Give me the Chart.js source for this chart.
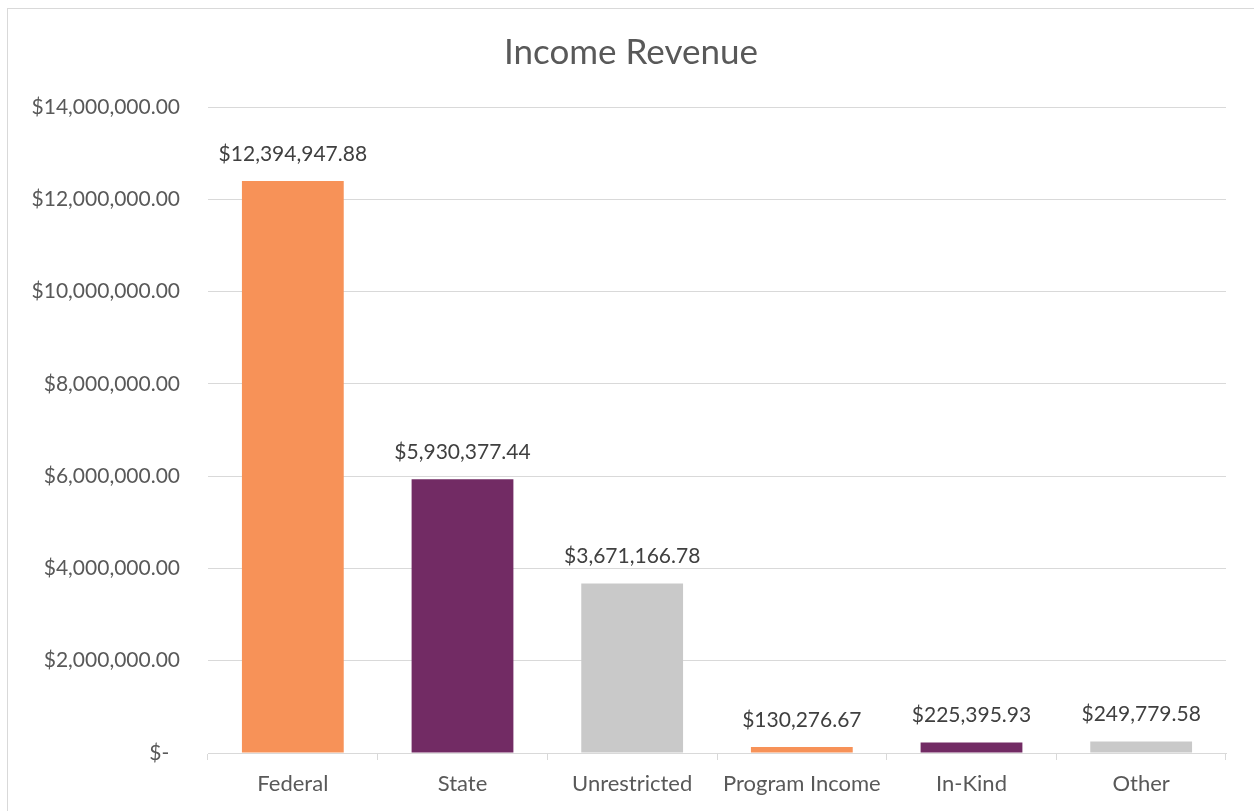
<!DOCTYPE html>
<html>
<head>
<meta charset="utf-8">
<script src="https://cdn.jsdelivr.net/npm/chart.js@4/dist/chart.umd.min.js"></script>
<style>
  html, body { margin: 0; padding: 0; background: #fff; overflow: hidden; }
  #frame { position: absolute; left: 7px; top: 8px; width: 1270px; height: 830px; border: 1px solid #d9d9d9; }
  #wrap { position: absolute; left: 0; top: 0; width: 1254px; height: 811px; }
</style>
</head>
<body>
<div id="frame"></div>
<div id="wrap"><canvas id="chart"></canvas></div>
<script>
// data
var categories = ["Federal", "State", "Unrestricted", "Program Income", "In-Kind", "Other"];
var revenue = [12394947.88, 5930377.44, 3671166.78, 130276.67, 225395.93, 249779.58];
var barColors = ["#F79258", "#722B64", "#C9C9C9", "#F79258", "#722B64", "#C9C9C9"];
var yTicks = [0, 2000000, 4000000, 6000000, 8000000, 10000000, 12000000, 14000000];
var chartTitle = "Income Revenue";

var fontFam = "Lato, 'Liberation Sans', sans-serif";

function money(v) {
  if (v == 0) return "$-  ";
  return "$" + v.toLocaleString("en-US", { minimumFractionDigits: 2, maximumFractionDigits: 2 });
}

// title centered on whole canvas + labels above bars
var barLabels = {
  id: "barLabels",
  afterDatasetsDraw: function(chart) {
    var ctx = chart.ctx;
    var meta = chart.getDatasetMeta(0);
    ctx.save();
    ctx.textAlign = "center";
    ctx.textBaseline = "middle";
    ctx.font = "35px " + fontFam;
    ctx.fillStyle = "#595959";
    ctx.fillText(chartTitle, chart.width / 2 + 4, 53);
    ctx.font = "21px " + fontFam;
    ctx.fillStyle = "#404040";
    meta.data.forEach(function(bar, i) {
      ctx.fillText(money(revenue[i]), bar.x, bar.y - 27);
    });
    ctx.restore();
  }
};

new Chart(document.getElementById("chart"), {
  type: "bar",
  data: {
    labels: categories,
    datasets: [{
      data: revenue,
      backgroundColor: barColors,
      categoryPercentage: 1,
      barPercentage: 0.6
    }]
  },
  options: {
    responsive: true,
    maintainAspectRatio: false,
    animation: false,
    layout: { padding: { left: 0, right: 28, top: 107, bottom: 0 } },
    plugins: {
      legend: { display: false },
      tooltip: { enabled: false },
      title: { display: false }
    },
    scales: {
      y: {
        min: 0,
        max: 14000000,
        afterBuildTicks: function(scale) {
          scale.ticks = yTicks.map(function(v) { return { value: v }; });
        },
        afterFit: function(scale) { scale.width = 208; },
        grid: { color: "#d9d9d9", drawTicks: false },
        border: { display: false },
        ticks: {
          padding: 28,
          color: "#595959",
          font: { family: fontFam, size: 21 },
          callback: function(v) { return money(v); }
        }
      },
      x: {
        afterFit: function(scale) { scale.height = 58; },
        grid: { offset: true, drawOnChartArea: false, color: "#d9d9d9", tickLength: 7 },
        border: { color: "#d9d9d9" },
        ticks: {
          padding: 11,
          color: "#595959",
          font: { family: fontFam, size: 22 }
        }
      }
    }
  },
  plugins: [barLabels]
});
</script>
</body>
</html>
